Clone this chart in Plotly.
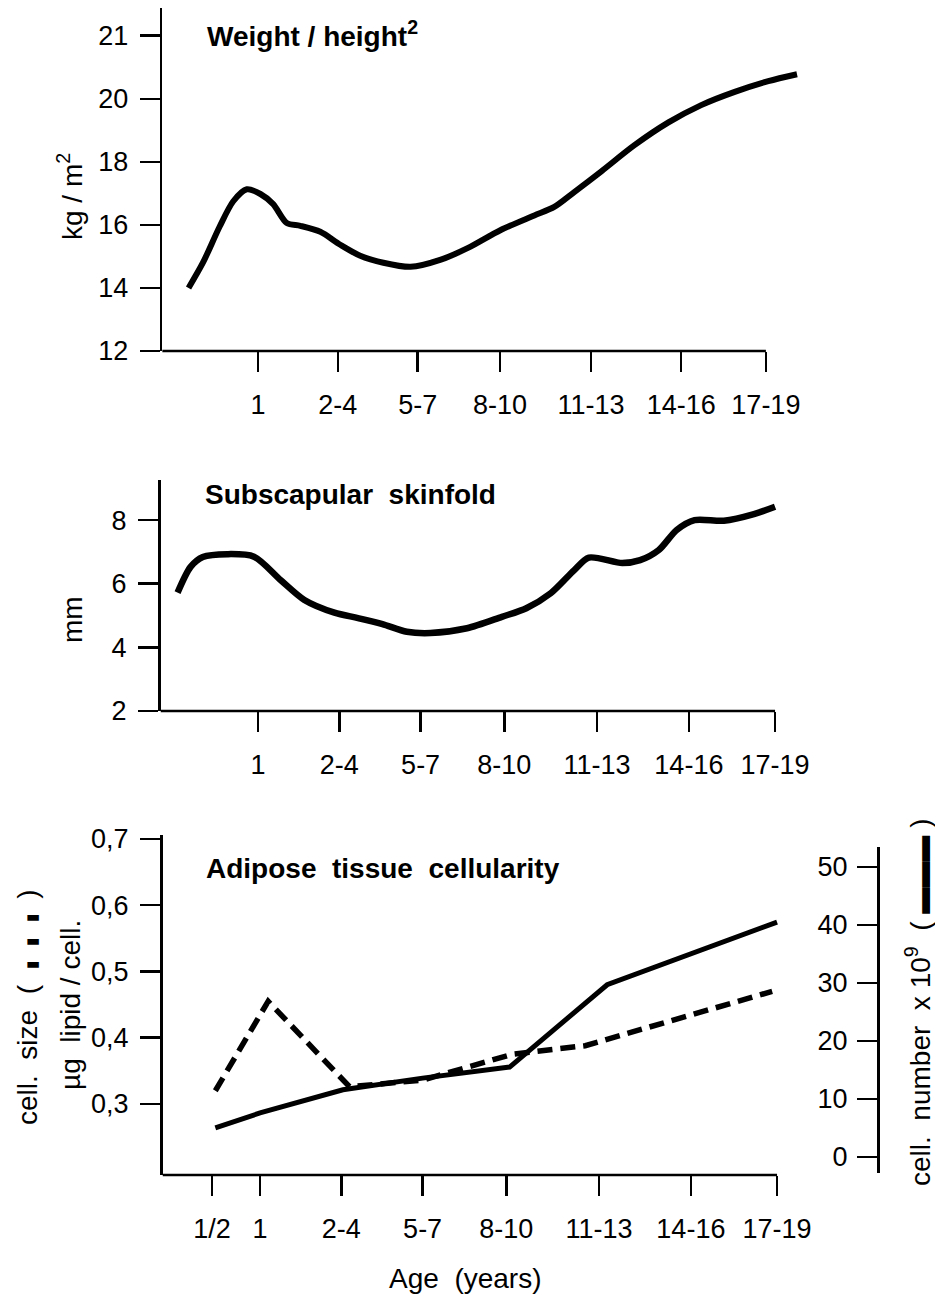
import numpy as np
import plotly.graph_objects as go

W, H = 935, 1295

# ---------------- data ----------------
age_labels = ["1/2", "1", "2-4", "5-7", "8-10", "11-13", "14-16", "17-19"]
age_pos = [0.41, 1.0, 2.0, 3.0, 4.03, 5.17, 6.3, 7.36]

# Weight / height^2 (kg/m2)
bmi_ticks = [12, 14, 16, 18, 20, 21]
bmi_x = [0.13, 0.31, 0.52, 0.69, 0.86, 1.03, 1.19, 1.36, 1.53, 1.78, 2.03, 2.28,
         2.57, 2.91, 3.29, 3.63, 4.04, 4.46, 4.71, 4.96, 5.3, 5.71, 6.14, 6.55,
         6.97, 7.39, 7.75]
bmi_y = [14.0, 14.8, 15.95, 16.75, 17.13, 16.98, 16.66, 16.06, 15.97, 15.78, 15.37, 15.02,
         14.8, 14.67, 14.9, 15.27, 15.84, 16.3, 16.57, 17.04, 17.7, 18.52, 19.25, 19.8,
         20.11, 20.28, 20.39]

# Subscapular skinfold (mm)
skin_ticks = [2, 4, 6, 8]
skin_x = [0.01, 0.17, 0.32, 0.62, 0.95, 1.28, 1.57, 1.94, 2.23, 2.53, 2.83, 3.12,
          3.57, 4.0, 4.3, 4.6, 4.89, 5.07, 5.48, 5.7, 5.93, 6.15, 6.37, 6.73, 7.1, 7.36]
skin_y = [5.72, 6.53, 6.84, 6.93, 6.85, 6.11, 5.49, 5.09, 4.92, 4.73, 4.49, 4.45,
          4.6, 4.96, 5.23, 5.7, 6.43, 6.82, 6.65, 6.74, 7.06, 7.69, 8.0, 7.98, 8.19, 8.42]

# Adipose tissue cellularity
size_ticks = [0.3, 0.4, 0.5, 0.6, 0.7]
size_ticktext = ["0,3", "0,4", "0,5", "0,6", "0,7"]
size_x = [0.45, 1.1, 2.1, 3.0, 4.1, 5.0, 7.3]          # cell size, µg lipid / cell (dashed)
size_y = [0.32, 0.455, 0.326, 0.336, 0.375, 0.388, 0.47]

number_ticks = [0, 10, 20, 30, 40, 50]
number_x = [0.45, 1.0, 2.02, 3.0, 4.07, 5.27, 7.36]     # cell number x 10^9 (solid)
number_y = [5.0, 7.6, 11.6, 13.6, 15.5, 29.7, 40.5]

# ---------------- styling helpers ----------------
FONT = "Liberation Sans, Arial, sans-serif"
BLACK = "#000000"
AXW = 2.5


def px(xp):
    return xp / W


def py(yp):
    return 1 - yp / H


bmi_pos = np.interp(bmi_y, bmi_ticks, np.arange(len(bmi_ticks)))

fig = go.Figure()

fig.add_trace(go.Scatter(x=bmi_x, y=bmi_pos, mode="lines", xaxis="x", yaxis="y",
                         line=dict(color=BLACK, width=6, shape="spline", smoothing=0.8),
                         showlegend=False, hoverinfo="skip"))
fig.add_trace(go.Scatter(x=skin_x, y=skin_y, mode="lines", xaxis="x2", yaxis="y2",
                         line=dict(color=BLACK, width=6.5, shape="spline", smoothing=0.8),
                         showlegend=False, hoverinfo="skip"))
fig.add_trace(go.Scatter(x=number_x, y=number_y, mode="lines", xaxis="x3", yaxis="y4",
                         line=dict(color=BLACK, width=5),
                         showlegend=False, hoverinfo="skip"))
fig.add_trace(go.Scatter(x=size_x, y=size_y, mode="lines", xaxis="x3", yaxis="y3",
                         line=dict(color=BLACK, width=5.5, dash="15px,8px"),
                         showlegend=False, hoverinfo="skip"))

tickfont = dict(family=FONT, size=27, color=BLACK)


def xax(domain, rng, vals, texts, anchor):
    return dict(domain=domain, range=rng, tickvals=vals, ticktext=texts, anchor=anchor,
                ticks="outside", ticklen=20, tickwidth=AXW, tickcolor=BLACK,
                showline=False, showgrid=False, zeroline=False, automargin=False,
                tickfont=tickfont, ticklabelstandoff=10, fixedrange=True)


def yax(domain, rng, vals, texts, anchor, **kw):
    d = dict(domain=domain, range=rng, tickvals=vals, ticktext=texts, anchor=anchor,
             ticks="outside", ticklen=20, tickwidth=AXW, tickcolor=BLACK,
             showline=True, linewidth=AXW, linecolor=BLACK,
             showgrid=False, zeroline=False, automargin=False,
             tickfont=tickfont, ticklabelstandoff=6, fixedrange=True)
    d.update(kw)
    return d


fig.update_layout(
    width=W, height=H,
    margin=dict(l=0, r=0, t=0, b=0),
    paper_bgcolor="white", plot_bgcolor="rgba(0,0,0,0)",
    font=dict(family=FONT, color=BLACK),
    xaxis=xax([px(162.2), px(809)], [-0.2, 7.9], age_pos[1:], age_labels[1:], "y"),
    yaxis=yax([py(351), py(8)], [0, 5.44], list(range(len(bmi_ticks))),
              [str(t) for t in bmi_ticks], "x"),
    xaxis2=xax([px(160.5), px(790.5)], [-0.2, 7.55], age_pos[1:], age_labels[1:], "y2"),
    yaxis2=yax([py(711), py(480)], [2, 9.26], skin_ticks, [str(t) for t in skin_ticks], "x2"),
    xaxis3=xax([px(162.5), px(792.5)], [-0.2, 7.55], age_pos, age_labels, "y3"),
    yaxis3=yax([py(1175), py(835)], [0.1928, 0.706], size_ticks, size_ticktext, "x3"),
    yaxis4=yax([py(1173), py(847)], [-2.76, 53.45], number_ticks,
               [str(t) for t in number_ticks], "free", position=px(878), side="left",
               ticklabelstandoff=4),
)

# x baselines ending at last tick
for xa, ya in [("x", "y"), ("x2", "y2"), ("x3", "y3")]:
    fig.add_shape(type="line", xref=xa, yref=f"{ya} domain", x0=-0.2, x1=age_pos[-1],
                  y0=0, y1=0, line=dict(color=BLACK, width=AXW))

title_font = dict(family=FONT, size=28, color=BLACK)
lab_font = dict(family=FONT, size=28, color=BLACK)

DASH = '<span style="font-size:15px">▮</span>'
BAR = '<span style="font-size:26px">▬▬▬</span>'

ann = [
    dict(text="<b>Weight / height<sup>2</sup></b>", x=px(205), y=py(34), xanchor="left",
         yanchor="middle", font=title_font),
    dict(text="<b>Subscapular  skinfold</b>", x=px(203), y=py(494), xanchor="left",
         yanchor="middle", font=title_font),
    dict(text="<b>Adipose  tissue  cellularity</b>", x=px(204), y=py(868), xanchor="left",
         yanchor="middle", font=title_font),
    dict(text="kg / m<sup>2</sup>", x=px(70), y=py(197), textangle=-90, font=lab_font),
    dict(text="mm", x=px(73), y=py(620), textangle=-90, font=lab_font),
    dict(text=f"cell.  size  (  {DASH}  {DASH}  {DASH}  )", x=px(28), y=py(1007),
         textangle=-90, font=lab_font),
    dict(text="µg  lipid / cell.", x=px(70), y=py(1005), textangle=-90, font=lab_font),
    dict(text=f"cell.  number  x 10<sup>9</sup>  ( {BAR} )", x=px(918), y=py(1003),
         textangle=-90, font=lab_font),
    dict(text="Age  (years)", x=px(465), y=py(1278), font=lab_font),
]
for a in ann:
    a.setdefault("xanchor", "center")
    a.setdefault("yanchor", "middle")
    fig.add_annotation(xref="paper", yref="paper", showarrow=False, **a)

fig.write_html("out.html",
               config={"displayModeBar": False, "staticPlot": True},
               post_script="document.body.style.margin='0px';"
                           "document.body.style.overflow='hidden';")
